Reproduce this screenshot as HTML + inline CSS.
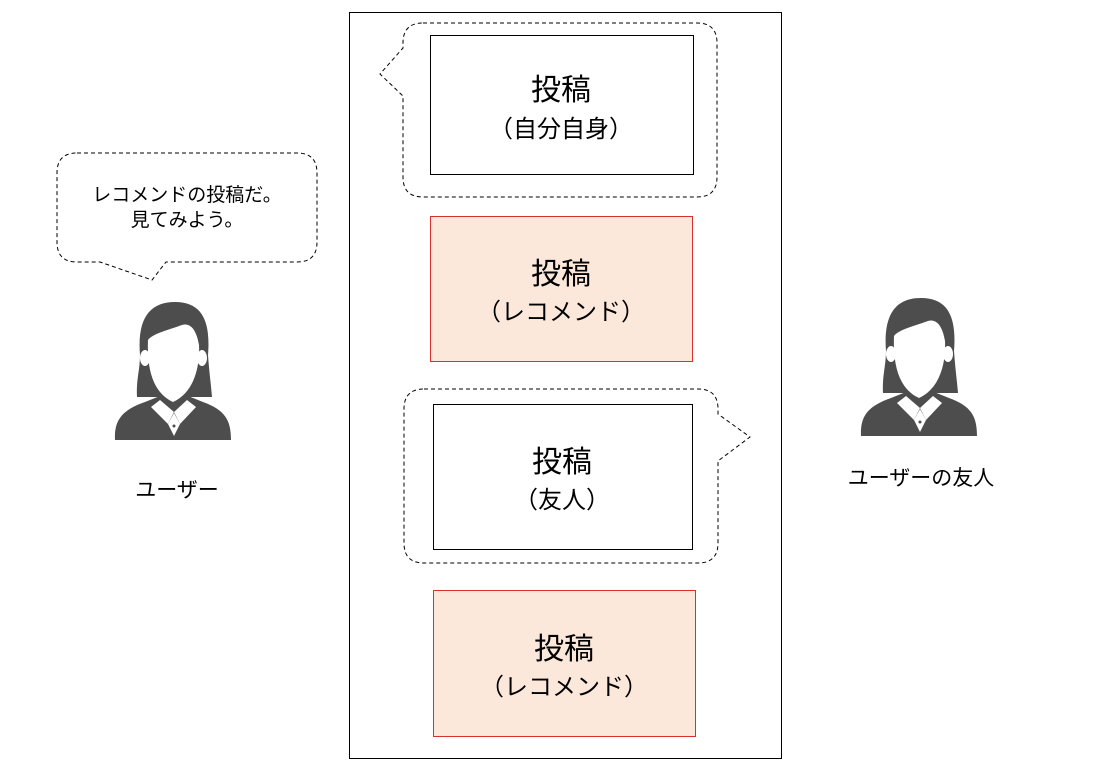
<!DOCTYPE html>
<html><head><meta charset="utf-8"><style>
body{margin:0;background:#fff;}
svg text{font-family:"Liberation Sans","Noto Sans CJK JP",sans-serif;fill:#000;}
</style></head><body>
<svg width="1098" height="766" viewBox="0 0 1098 766" xmlns="http://www.w3.org/2000/svg">
<defs>
<g id="p">
 <path d="M115,440 C114,420 122,410 145,402 L160,396 L188,396 L203,402 C225,410 231,420 231,440 Z" fill="#4d4d4d"/>
 <path d="M137,397 C136,380 140,370 140,355 C137,318 150,302 175,302 C200,302 211,318 208,355 C209,370 211,385 212,397 Z" fill="#4d4d4d"/>
 <path d="M148,340 C152,334 168,330 182,325 C192,322 197,333 199,345 C200,365 195,392 173,402 C151,392 147,365 148,340 Z" fill="#fff"/>
 <ellipse cx="145" cy="358" rx="5" ry="8" fill="#fff"/>
 <ellipse cx="202" cy="358" rx="5" ry="8" fill="#fff"/>
 <path d="M151,407 L160,400 L174,412 L168,424 Z" fill="#fff"/>
 <path d="M196,407 L187,400 L174,412 L180,424 Z" fill="#fff"/>
 <path d="M168,424 L174,413 L180,424 L174,436 Z" fill="#fff"/>
 <circle cx="174" cy="426" r="1.5" fill="#4d4d4d"/>
</g>
</defs>
<rect x="349.5" y="12.5" width="432" height="746" fill="none" stroke="#000" stroke-width="1"/>
<g fill="none" stroke="#000" stroke-width="1" stroke-dasharray="4,3">
 <path d="M423,23 L697,23 Q717,23 717,43 L717,177 Q717,197 697,197 L423,197 Q403,197 403,177 L403,96 L380,74 L403,48 L403,43 Q403,23 423,23 Z"/>
 <path d="M424,389 L698,389 Q718,389 718,409 L718,414 L750,437 L718,461 L718,543 Q718,563 698,563 L424,563 Q404,563 404,543 L404,409 Q404,389 424,389 Z"/>
 <path d="M77,153 L297,153 Q317,153 317,173 L317,242 Q317,262 297,262 L166,262 L152,280 L100,262 L77,262 Q57,262 57,242 L57,173 Q57,153 77,153 Z"/>
</g>
<rect x="430.5" y="35.5" width="263" height="139" fill="#fff" stroke="#000"/>
<rect x="430.5" y="216.5" width="262" height="145" fill="#fce8db" stroke="#d9302c"/>
<rect x="433.5" y="404.5" width="259" height="145" fill="#fff" stroke="#000"/>
<rect x="433.5" y="590.5" width="262" height="146" fill="#fce8db" stroke="#d9302c"/>
<g text-anchor="middle">
 <text x="561" y="100" font-size="30">投稿</text>
 <text x="561" y="137" font-size="24">（自分自身）</text>
 <text x="561" y="284" font-size="30">投稿</text>
 <text x="561" y="320" font-size="24">（レコメンド）</text>
 <text x="562" y="472" font-size="30">投稿</text>
 <text x="562" y="508" font-size="24">（友人）</text>
 <text x="564" y="659" font-size="30">投稿</text>
 <text x="564" y="695" font-size="24">（レコメンド）</text>
 <text x="187" y="201" font-size="19">レコメンドの投稿だ。</text>
 <text x="187" y="226" font-size="19">見てみよう。</text>
 <text x="177" y="497" font-size="21">ユーザー</text>
 <text x="921" y="485" font-size="21">ユーザーの友人</text>
</g>
<use href="#p"/>
<use href="#p" transform="translate(746,-4)"/>
</svg>
</body></html>
